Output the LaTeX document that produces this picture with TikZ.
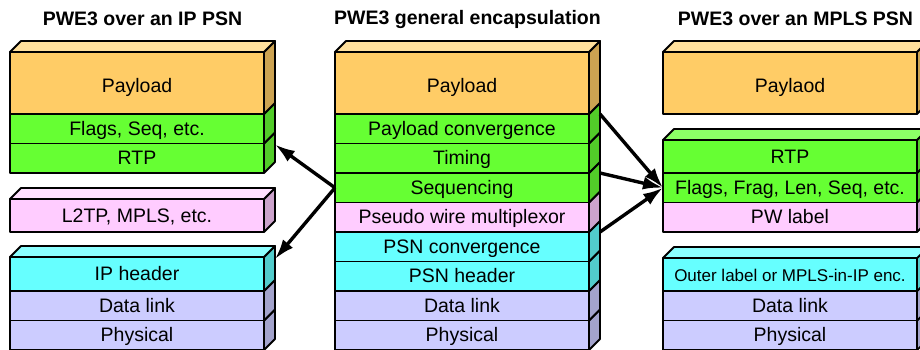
\documentclass[tikz,border=0pt]{standalone}
\usepackage{fontspec}
\setmainfont{Liberation Sans}
\usetikzlibrary{arrows.meta,calc}

% layer palettes: F = front, T = top, S = side
\definecolor{payF}{HTML}{FFCC66}\definecolor{payT}{HTML}{FFE09C}\definecolor{payS}{HTML}{CCA352}
\definecolor{grnF}{HTML}{66FF33}\definecolor{grnT}{HTML}{8CFF66}\definecolor{grnS}{HTML}{52CC29}
\definecolor{pnkF}{HTML}{FFCCFF}\definecolor{pnkT}{HTML}{FFE0FF}\definecolor{pnkS}{HTML}{CCA3CC}
\definecolor{cynF}{HTML}{66FFFF}\definecolor{cynT}{HTML}{8CFFFF}\definecolor{cynS}{HTML}{52CCCC}
\definecolor{lavF}{HTML}{CCCCFF}\definecolor{lavT}{HTML}{E0E0FF}\definecolor{lavS}{HTML}{A3A3CC}

\newcommand\rowfont{\fontsize{19.5}{22}\selectfont}
\newcommand\smallrowfont{\fontsize{17}{20}\selectfont}

\tikzset{
  face/.style={draw=black, line width=1.8pt, line join=round},
  layer/.style={face, rectangle, minimum width=254pt, inner sep=0pt, outer sep=0pt,
                anchor=north west, font=\rowfont, text height=17pt, text depth=4pt},
  tall/.style={text height=22pt},
  title/.style={font=\rowfont\bfseries, anchor=base},
  arr/.style={line width=3.4pt, -{Latex[length=20pt,width=13pt]}},
}

% one slab of a stack: [extra], name, x, top y, height, palette, text
\newcommand\slab[7][]{%
  \node[layer, fill=#6F, minimum height=#5pt, #1] (#2) at (#3,#4) {#7};
  \filldraw[face, fill=#6S] (#2.north east) -- ++(11,-11) -- ++(0,#5) -- (#2.south east) -- cycle;
}
% top face of the uppermost slab of a group: name, palette
\newcommand\slabtop[2]{%
  \filldraw[face, fill=#2T] (#1.north west) -- ++(11,-11) -- ++(254,0) -- (#1.north east) -- cycle;
}

\begin{document}
\begin{tikzpicture}[x=1pt, y=-1pt]
\useasboundingbox (0,0) rectangle (920,349);
\clip (0,0) rectangle (920,349);

% titles
\node[title] (tL) at (142.5,25) {PWE3 over an IP PSN};
\node[title] (tM) at (467.5,24.5) {PWE3 general encapsulation};
\node[title] (tR) at (795.5,25) {PWE3 over an MPLS PSN};

% IP PSN stack
\slab{physL}{10}{320.5}{29.5}{lav}{Physical}
\slab{dlL}{10}{291}{29.5}{lav}{Data link}
\slab{iph}{10}{257}{34}{cyn}{IP header}
\slabtop{iph}{cyn}
\slab{l2tp}{10}{199}{33}{pnk}{L2TP, MPLS, etc.}
\slabtop{l2tp}{pnk}
\slab{rtpL}{10}{143.5}{29.5}{grn}{RTP}
\slab{flagsL}{10}{114}{29.5}{grn}{Flags, Seq, etc.}
\slab[tall]{payL}{10}{52}{62}{pay}{Payload}
\slabtop{payL}{pay}

% general encapsulation stack
\slab{physM}{335}{320.5}{29.5}{lav}{Physical}
\slab{dlM}{335}{291}{29.5}{lav}{Data link}
\slab{psnh}{335}{261.5}{29.5}{cyn}{PSN header}
\slab{psnc}{335}{232}{29.5}{cyn}{PSN convergence}
\slab{pwmux}{335}{202.5}{29.5}{pnk}{Pseudo wire multiplexor}
\slab{seq}{335}{173}{29.5}{grn}{Sequencing}
\slab{timing}{335}{143.5}{29.5}{grn}{Timing}
\slab{pconv}{335}{114}{29.5}{grn}{Payload convergence}
\slab[tall]{payM}{335}{52}{62}{pay}{Payload}
\slabtop{payM}{pay}

% MPLS PSN stack
\slab{physR}{663}{320.5}{29.5}{lav}{Physical}
\slab{dlR}{663}{291}{29.5}{lav}{Data link}
\slab{outer}{663}{258}{33}{cyn}{\smallrowfont Outer label or MPLS-in-IP enc.}
\slabtop{outer}{cyn}
\slab{pwl}{663}{202.5}{29.5}{pnk}{PW label}
\slab{flagsR}{663}{173}{29.5}{grn}{Flags, Frag, Len, Seq, etc.}
\slab{rtpR}{663}{140}{33}{grn}{RTP}
\slabtop{rtpR}{grn}
\slab[tall]{payR}{663}{52}{62}{pay}{Paylaod}
\slabtop{payR}{pay}

% mappings between the stacks
\draw[arr] (seq.west) -- ($(rtpL.north east)+(11,1)$);
\draw[arr] (seq.west) -- ($(iph.north east)+(11,2)$);
\draw[arr] ($(pconv.north east)+(11,0)$) -- (flagsR.west);
\draw[arr] ($(seq.north east)+(11,0)$) -- (flagsR.west);
\draw[arr] ($(psnc.north east)+(11,0)$) -- (flagsR.west);
\end{tikzpicture}
\end{document}
